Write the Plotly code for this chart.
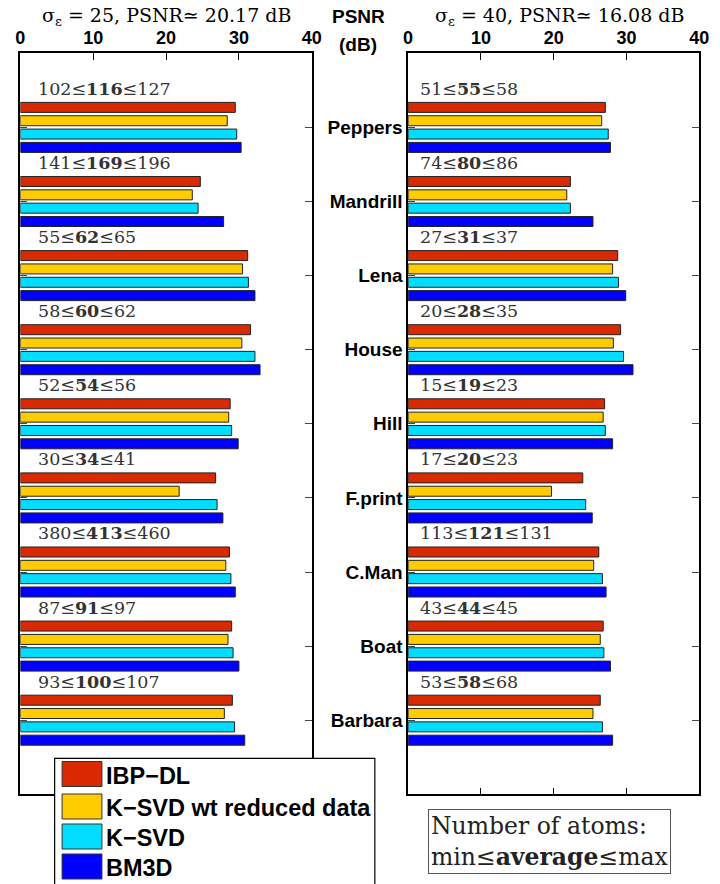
import plotly.graph_objects as go

# ---------------- data ----------------
images = ["Peppers", "Mandrill", "Lena", "House", "Hill", "F.print", "C.Man", "Boat", "Barbara"]
methods = ["IBP\u2212DL", "K\u2212SVD wt reduced data", "K\u2212SVD", "BM3D"]
colors = ["#D92900", "#FFCC00", "#00DDFF", "#0000FF"]

# sigma = 25
ibp_25 = [29.5, 24.7, 31.2, 31.6, 28.8, 26.8, 28.7, 29.0, 29.1]
ksvd_red_25 = [28.4, 23.6, 30.5, 30.4, 28.6, 21.8, 28.2, 28.5, 28.0]
ksvd_25 = [29.7, 24.4, 31.3, 32.2, 29.0, 27.0, 28.9, 29.2, 29.4]
bm3d_25 = [30.3, 27.9, 32.2, 32.9, 29.9, 27.8, 29.5, 30.0, 30.8]

# sigma = 40
ibp_40 = [27.1, 22.3, 28.8, 29.2, 27.0, 24.0, 26.2, 26.8, 26.4]
ksvd_red_40 = [26.6, 21.8, 28.1, 28.2, 26.8, 19.7, 25.5, 26.4, 25.4]
ksvd_40 = [27.5, 22.3, 28.9, 29.6, 27.1, 24.4, 26.7, 26.9, 26.7]
bm3d_40 = [27.8, 25.4, 29.9, 30.9, 28.1, 25.3, 27.2, 27.8, 28.1]

# number of atoms: min, average, max
atoms_min_25 = [102, 141, 55, 58, 52, 30, 380, 87, 93]
atoms_avg_25 = [116, 169, 62, 60, 54, 34, 413, 91, 100]
atoms_max_25 = [127, 196, 65, 62, 56, 41, 460, 97, 107]
atoms_min_40 = [51, 74, 27, 20, 15, 17, 113, 43, 53]
atoms_avg_40 = [55, 80, 31, 28, 19, 20, 121, 44, 58]
atoms_max_40 = [58, 86, 37, 35, 23, 23, 131, 45, 68]

x_ticks = [0, 10, 20, 30, 40]
title_left = "\u03c3<sub>\u03b5</sub> = 25, PSNR\u2243 20.17 dB"
title_right = "\u03c3<sub>\u03b5</sub> = 40, PSNR\u2243 16.08 dB"

# ---------------- figure ----------------
W, H = 720, 884
SANS = "Liberation Sans, Arial, sans-serif"
SERIF = "DejaVu Serif, serif"

ypos = list(range(1, len(images) + 1))

fig = go.Figure()
left_series = [ibp_25, ksvd_red_25, ksvd_25, bm3d_25]
right_series = [ibp_40, ksvd_red_40, ksvd_40, bm3d_40]
for name, col, vals in zip(methods, colors, left_series):
    fig.add_trace(go.Bar(x=vals, y=ypos, orientation="h", name=name,
                         marker=dict(color=col, line=dict(color="#222222", width=1)),
                         xaxis="x", yaxis="y", showlegend=False))
for name, col, vals in zip(methods, colors, right_series):
    fig.add_trace(go.Bar(x=vals, y=ypos, orientation="h", name=name,
                         marker=dict(color=col, line=dict(color="#222222", width=1)),
                         xaxis="x2", yaxis="y2", showlegend=False))

def px_x(p):
    return p / W

def px_y(p):
    return 1 - p / H

ax_common = dict(range=[0, 40], tickvals=x_ticks, side="top", ticks="inside", ticklen=7,
                 tickwidth=1, tickcolor="black", showline=True, linecolor="black", linewidth=1.5,
                 mirror="ticks", showgrid=False, zeroline=False,
                 tickfont=dict(family=SANS, size=18, color="black", weight="bold"))
ay_common = dict(range=[10, 0], tickvals=ypos, ticktext=images, ticks="inside", ticklen=7,
                 tickwidth=1, tickcolor="#444444", showline=True, linecolor="black", linewidth=1.5,
                 mirror="ticks", showgrid=False, zeroline=False,
                 tickfont=dict(family=SANS, size=19, color="black", weight="bold"))

y_dom = [px_y(794.3), px_y(53.3)]
fig.update_layout(
    width=W, height=H,
    margin=dict(l=0, r=0, t=0, b=0),
    paper_bgcolor="white", plot_bgcolor="white",
    barmode="group", bargap=0.28, bargroupgap=0.25,
    xaxis=dict(domain=[px_x(15.7), px_x(313.3)], anchor="y", **ax_common),
    yaxis=dict(domain=y_dom, anchor="x", showticklabels=False, **ay_common),
    xaxis2=dict(domain=[px_x(411.7), px_x(709)], anchor="y2", **ax_common),
    yaxis2=dict(domain=y_dom, anchor="x2", showticklabels=True, **ay_common),
    showlegend=False,
)

annotations = []
# atom count labels
for i, yv in enumerate(ypos):
    annotations.append(dict(
        x=2.1, y=yv - 0.52, xref="x", yref="y", xanchor="left", yanchor="middle",
        text=f"{atoms_min_25[i]}\u2264<b>{atoms_avg_25[i]}</b>\u2264{atoms_max_25[i]}",
        showarrow=False, font=dict(family=SERIF, size=17.5, color="#333333")))
    annotations.append(dict(
        x=1.3, y=yv - 0.52, xref="x2", yref="y2", xanchor="left", yanchor="middle",
        text=f"{atoms_min_40[i]}\u2264<b>{atoms_avg_40[i]}</b>\u2264{atoms_max_40[i]}",
        showarrow=False, font=dict(family=SERIF, size=17.5, color="#333333")))

# titles
annotations.append(dict(x=px_x(164.5), y=px_y(16), xref="paper", yref="paper",
                        text=title_left, showarrow=False, xanchor="center", yanchor="middle",
                        font=dict(family=SERIF, size=19, color="black")))
annotations.append(dict(x=px_x(566), y=px_y(16), xref="paper", yref="paper",
                        text=title_right, showarrow=False, xanchor="center", yanchor="middle",
                        font=dict(family=SERIF, size=19, color="black")))
annotations.append(dict(x=px_x(361), y=px_y(16), xref="paper", yref="paper",
                        text="<b>PSNR</b>", showarrow=False, xanchor="center", yanchor="middle",
                        font=dict(family=SANS, size=19, color="black")))
annotations.append(dict(x=px_x(360), y=px_y(44), xref="paper", yref="paper",
                        text="<b>(dB)</b>", showarrow=False, xanchor="center", yanchor="middle",
                        font=dict(family=SANS, size=19, color="black")))

# atoms explanation box
annotations.append(dict(x=px_x(556.3), y=px_y(841.5), xref="paper", yref="paper",
                        text="Number of atoms:<br>min\u2264<b>average</b>\u2264max",
                        showarrow=False, xanchor="center", yanchor="middle", align="left",
                        bgcolor="white", bordercolor="#555555", borderwidth=1, borderpad=2,
                        font=dict(family=SERIF, size=23.5, color="#222222")))

# custom legend (large swatches)
shapes = [dict(type="rect", xref="paper", yref="paper", layer="above",
               x0=px_x(50.7), x1=px_x(377.7), y0=px_y(890), y1=px_y(758.3),
               fillcolor="white", line=dict(color="black", width=1.2))]
leg_centers = [774, 806.5, 836.5, 866.5]
for name, col, yc in zip(methods, colors, leg_centers):
    shapes.append(dict(type="rect", xref="paper", yref="paper", layer="above",
                       x0=px_x(58.3), x1=px_x(99), y0=px_y(yc + 12.5), y1=px_y(yc - 12.5),
                       fillcolor=col, line=dict(color="#333333", width=1)))
    annotations.append(dict(x=px_x(101), y=px_y(yc + 1.5), xref="paper", yref="paper",
                            text=f"<b>{name}</b>", showarrow=False, xanchor="left",
                            yanchor="middle", font=dict(family=SANS, size=23.5, color="black")))

fig.update_layout(annotations=annotations, shapes=shapes)
fig.write_html("out.html", config={"displayModeBar": False},
               post_script="document.body.style.margin='0';document.body.style.padding='0';")
